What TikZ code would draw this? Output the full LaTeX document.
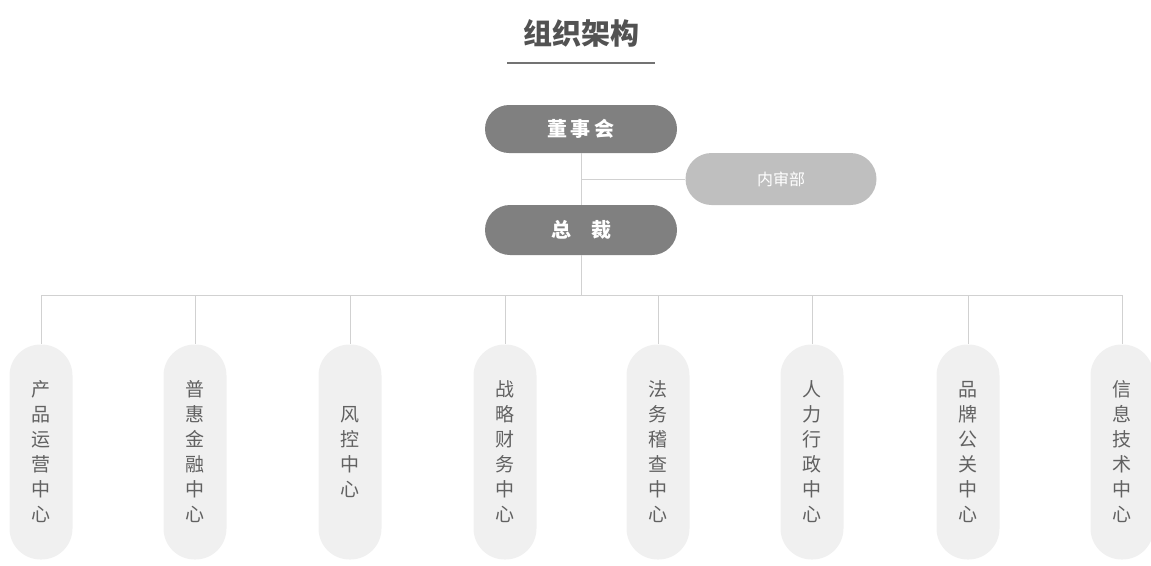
\documentclass[tikz,border=0pt]{standalone}
\usepackage{fontspec}
\setmainfont{Noto Sans CJK SC}
\begin{document}
\begin{tikzpicture}[x=1pt,y=-1pt,
  toppill/.style={rounded corners=24pt, fill=#1, minimum width=192pt, minimum height=48pt, inner sep=0pt, text=white},
  deptpill/.style={rounded corners=31pt, fill=black!6, minimum width=63pt, minimum height=215pt, inner sep=0pt, text=black!62, align=center, font=\fontsize{19}{25}\selectfont},
  conn/.style={draw=black!18, line width=0.8pt},
]
\useasboundingbox (0,0) rectangle (1151,565);
% title
\node (title) at (581,33) {\fontsize{29}{34}\selectfont\bfseries\color{black!68}组织架构};
\draw[black!55, line width=2pt] (507,63) -- (655,63);
% top nodes
\node[toppill=black!50] (dsh) at (581,129) {\fontsize{20}{24}\selectfont\bfseries 董\,事\,会};
\node[toppill=black!25, minimum height=52pt, minimum width=191pt, rounded corners=26pt] (nsb) at (781,179) {\fontsize{16}{20}\selectfont 内审部};
\node[toppill=black!50, minimum height=50pt, rounded corners=25pt] (zc) at (581,230) {\fontsize{20}{24}\selectfont\bfseries 总\quad 裁};
\draw[conn] (dsh.south) -- (zc.north);
\coordinate (j1) at (581,179);
\draw[conn] (j1) -- (nsb.west);
% departments
\node[deptpill] (p1) at (41,452) {产\\品\\运\\营\\中\\心};
\node[deptpill] (p2) at (195,452) {普\\惠\\金\\融\\中\\心};
\node[deptpill] (p3) at (350,452) {风\\控\\中\\心};
\node[deptpill] (p4) at (505,452) {战\\略\\财\\务\\中\\心};
\node[deptpill] (p5) at (658,452) {法\\务\\稽\\查\\中\\心};
\node[deptpill] (p6) at (812,452) {人\\力\\行\\政\\中\\心};
\node[deptpill] (p7) at (968,452) {品\\牌\\公\\关\\中\\心};
\node[deptpill] (p8) at (1122,452) {信\\息\\技\\术\\中\\心};
% bus
\coordinate (bm) at (581,295);
\coordinate (b1) at (41,295);
\coordinate (b8) at (1122,295);
\draw[conn] (zc.south) -- (bm);
\draw[conn] (b1) -- (b8);
\foreach \i in {1,...,8}{
  \draw[conn] (p\i.north |- bm) -- (p\i.north);
}
\end{tikzpicture}
\end{document}
